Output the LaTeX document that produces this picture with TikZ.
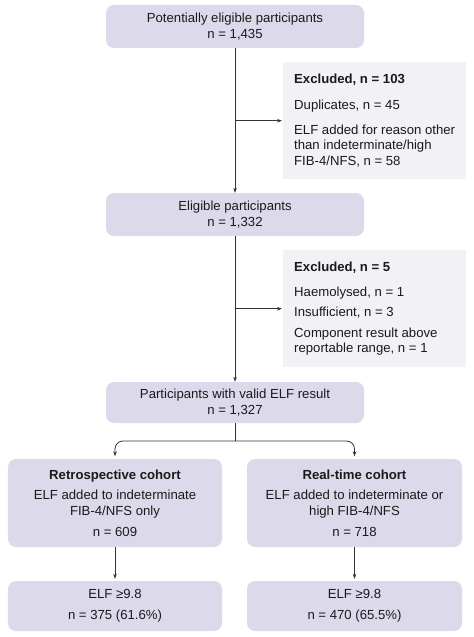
\documentclass[tikz,border=0pt]{standalone}
\usepackage{fontspec}
\setmainfont{Liberation Sans}
\usetikzlibrary{arrows.meta}
\definecolor{boxfill}{HTML}{DCDAEA}
\definecolor{exfill}{HTML}{F1F1F6}
\definecolor{linec}{HTML}{333333}
\definecolor{txt}{HTML}{1A1A1A}
\begin{document}
\begin{tikzpicture}[x=1bp,y=-1bp,
  font=\fontsize{13.2}{15.5}\selectfont,
  mainbox/.style={draw=none,fill=boxfill,rounded corners=8bp,align=center,text=txt,inner sep=0pt},
  exbox/.style={draw=none,fill=exfill,align=left,text=txt,inner sep=0pt,anchor=north west},
  conn/.style={draw=linec,line width=0.8bp,-{Stealth[length=5bp,width=3.6bp]}},
  plain/.style={draw=linec,line width=0.8bp}]
\useasboundingbox (0,0) rectangle (474,637);
% main boxes
\node[mainbox,minimum width=258bp,minimum height=43bp] (b1) at (235,26.5) {Potentially eligible participants\\n = 1,435};
\node[mainbox,minimum width=258bp,minimum height=43bp] (b2) at (235,214.5) {Eligible participants\\n = 1,332};
\node[mainbox,minimum width=258bp,minimum height=41bp] (b3) at (235,402.5) {Participants with valid ELF result\\n = 1,327};
% exclusion boxes
\node[exbox,minimum width=183bp,minimum height=117bp] (e1) at (283,62) {};
\node[text=txt,align=left,anchor=west,inner sep=0pt] (e1t) at (294,120.5) {\textbf{Excluded, n = 103}\\[10.5bp]Duplicates, n = 45\\[9.5bp]ELF added for reason other\\than indeterminate/high\\FIB-4/NFS, n = 58};
\node[exbox,minimum width=183bp,minimum height=117bp] (e2) at (283,250) {};
\node[text=txt,align=left,anchor=west,inner sep=0pt] (e2t) at (294,308.5) {\textbf{Excluded, n = 5}\\[9.5bp]Haemolysed, n = 1\\[4.5bp]Insufficient, n = 3\\[5.5bp]Component result above\\reportable range, n = 1};
% cohort boxes
\node[mainbox,minimum width=214bp,minimum height=88bp] (L) at (115,503) {\textbf{Retrospective cohort}\\[5.5bp]ELF added to indeterminate\\FIB-4/NFS only\\[5.5bp]n = 609};
\node[mainbox,minimum width=215bp,minimum height=88bp] (R) at (354.5,503) {\textbf{Real-time cohort}\\[5.5bp]ELF added to indeterminate or\\high FIB-4/NFS\\[5.5bp]n = 718};
\node[mainbox,minimum width=214bp,minimum height=50bp] (L2) at (115,606) {ELF \char"2265 9.8\\[5.5bp]n = 375 (61.6\%)};
\node[mainbox,minimum width=215bp,minimum height=50bp] (R2) at (354.5,606) {ELF \char"2265 9.8\\[5.5bp]n = 470 (65.5\%)};
% connectors
\draw[conn] (b1.south) -- (b2.north);
\draw[conn,shorten >=1bp] (b1.south |- e1.west) -- (e1.west);
\draw[conn] (b2.south) -- (b3.north);
\draw[conn,shorten >=1bp] (b2.south |- e2.west) -- (e2.west);
\coordinate (j) at (235,441);
\draw[plain] (b3.south) -- (j);
\draw[conn,rounded corners=8bp,shorten >=2.5bp] (j) -| (L.north);
\draw[conn,rounded corners=8bp,shorten >=2.5bp] (j) -| (R.north);
\draw[conn,shorten >=2bp] (L.south) -- (L2.north);
\draw[conn,shorten >=2bp] (R.south) -- (R2.north);
\end{tikzpicture}
\end{document}
